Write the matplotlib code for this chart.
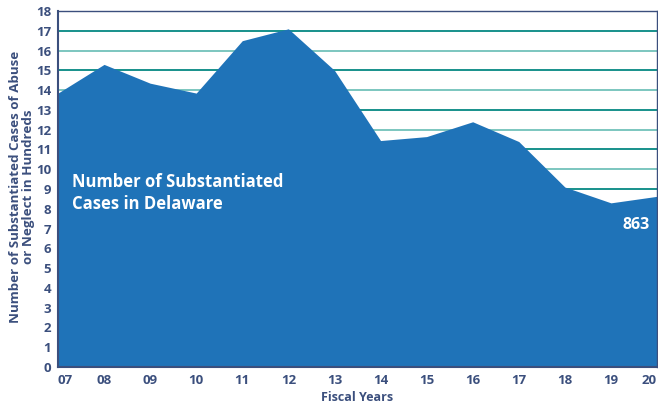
import matplotlib.pyplot as plt
import numpy as np

years = ['07', '08', '09', '10', '11', '12', '13', '14', '15', '16', '17', '18', '19', '20']
cases = [13.85, 15.3, 14.35, 13.85, 16.5, 17.1, 15.0, 11.45, 11.65, 12.4, 11.4, 9.1, 8.3, 8.63]
grid_levels = list(range(1, 18))

fill_color = '#1f73b8'
text_color = '#3b4f7d'
grid_dark = '#17918b'
grid_light = '#7cc6bf'

plt.rcParams['font.family'] = ['Open Sans', 'DejaVu Sans']
plt.rcParams['font.weight'] = 'bold'

fig = plt.figure(figsize=(6.58, 4.03), dpi=100)
ax = fig.add_axes([0.0881, 0.0893, 0.9104, 0.8834])

x = np.arange(len(years))
for i, lvl in enumerate(grid_levels):
    c = grid_dark if i % 2 == 0 else grid_light
    ax.axhline(lvl, color=c, lw=1.4, zorder=1)

ax.fill_between(x, 0, cases, color=fill_color, lw=0, zorder=2)

ax.set_xlim(0, len(years) - 1)
ax.set_ylim(0, 18)
ax.set_xticks(x)
ax.set_xticklabels(years, fontweight='bold')
ax.set_yticks(range(0, 19))
ax.set_yticklabels([str(v) for v in range(0, 19)], fontweight='bold')
ax.tick_params(length=0, colors=text_color, labelsize=9.5)
ax.tick_params(axis='x', pad=5)
ax.tick_params(axis='y', pad=5)
xl = ax.get_xticklabels()
xl[0].set_horizontalalignment('left')
xl[-1].set_horizontalalignment('right')

for s in ax.spines.values():
    s.set_color(text_color)
    s.set_linewidth(1.0)
ax.spines['left'].set_linewidth(1.5)
ax.spines['bottom'].set_linewidth(1.5)

ax.set_xlabel('Fiscal Years', color=text_color, fontsize=9, fontweight='bold', labelpad=3)
fig.text(22 / 658, 1 - 187 / 403, 'Number of Substantiated Cases of Abuse\nor Neglect in Hundreds',
         color=text_color, fontsize=9.6, fontweight='bold', rotation=90, ha='center', va='center',
         linespacing=1.0)

ax.text(0.3, 8.8, 'Number of Substantiated\nCases in Delaware', color='white', fontsize=12,
        fontweight='bold', va='center', ha='left', linespacing=1.3, zorder=3)
ax.text(12.85, 7.2, '863', color='white', fontsize=11.5, fontweight='bold', ha='right', va='center', zorder=3)

fig.savefig('out.png', dpi=100)
